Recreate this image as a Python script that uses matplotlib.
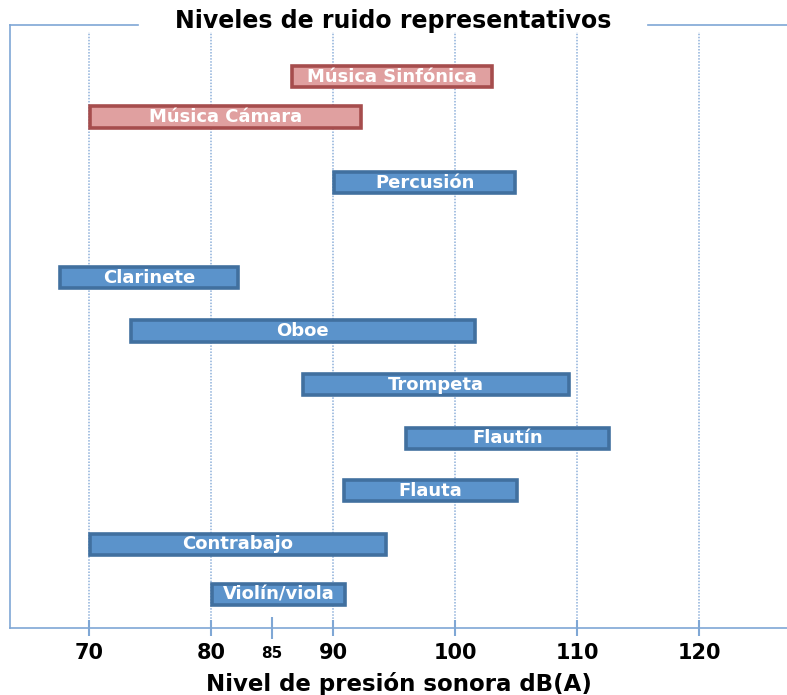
import matplotlib.pyplot as plt
from matplotlib.lines import Line2D

plt.rcParams['font.family'] = ['DejaVu Sans']

# --- datos (dB(A)) ---
instrumentos = ['Violín/viola', 'Contrabajo', 'Flauta', 'Flautín', 'Trompeta',
                'Oboe', 'Clarinete', 'Percusión', 'Música Cámara', 'Música Sinfónica']
nivel_min = [80.1, 70.1, 90.9, 96.0, 87.5, 73.4, 67.6, 90.1, 70.1, 86.6]
nivel_max = [91.0, 94.3, 105.1, 112.6, 109.3, 101.6, 82.2, 104.9, 92.3, 103.0]
fila = [0.66, 1.67, 2.73, 3.78, 4.84, 5.91, 6.97, 8.86, 10.17, 10.97]
tipo = ['inst'] * 8 + ['musica'] * 2

ticks_mayores = [70, 80, 90, 100, 110, 120]
tick_menor = [85]

col_azul, borde_azul = '#5b93cb', '#41709f'
col_rojo, borde_rojo = '#e0a0a0', '#a64d4d'
col_eje = '#7fa7d5'

fig = plt.figure(figsize=(7.87, 6.95), dpi=100)
ax = fig.add_axes([10 / 787, 67 / 695, 777 / 787, 603 / 695])
ax.set_xlim(63.52, 127.2)
ax.set_ylim(0, 12)

# rejilla vertical
for t in ticks_mayores:
    ax.axvline(t, ymin=0, ymax=0.988, color='#8eb0da', lw=1.1, ls=(0, (1, 1)), zorder=0)

for nom, a, b, y, tp in zip(instrumentos, nivel_min, nivel_max, fila, tipo):
    fc, ec = (col_azul, borde_azul) if tp == 'inst' else (col_rojo, borde_rojo)
    ax.barh(y, b - a, left=a, height=0.42, color=fc, edgecolor=ec, linewidth=2.6, zorder=3)
    ax.text((a + b) / 2, y, nom, ha='center', va='center', color='white',
            fontsize=13, fontweight='bold', zorder=4)

for s in ['right', 'top']:
    ax.spines[s].set_visible(False)
for s in ['left', 'bottom']:
    ax.spines[s].set_color(col_eje)
    ax.spines[s].set_linewidth(1.2)

ax.set_yticks([])
ax.set_xticks(ticks_mayores)
ax.set_xticklabels([str(t) for t in ticks_mayores], fontsize=15, fontweight='bold')
ax.set_xticks(tick_menor, minor=True)
ax.set_xticklabels([str(t) for t in tick_menor], minor=True, fontsize=11, fontweight='bold')
ax.tick_params(axis='x', which='major', direction='inout', length=11, width=1.5,
               color=col_eje, pad=5)
ax.tick_params(axis='x', which='minor', direction='inout', length=16, width=1.5,
               color=col_eje, pad=5)
ax.set_xlabel('Nivel de presión sonora dB(A)', fontsize=16.5, fontweight='bold', labelpad=7)

# borde superior partido por el título
fig.add_artist(Line2D([10 / 787, 138 / 787], [670 / 695, 670 / 695], color=col_eje, lw=1.2))
fig.add_artist(Line2D([648 / 787, 1.0], [670 / 695, 670 / 695], color=col_eje, lw=1.2))
fig.text(393 / 787, 674 / 695, 'Niveles de ruido representativos', ha='center', va='center',
         fontsize=17, fontweight='bold')

fig.savefig('out.png', dpi=100)
